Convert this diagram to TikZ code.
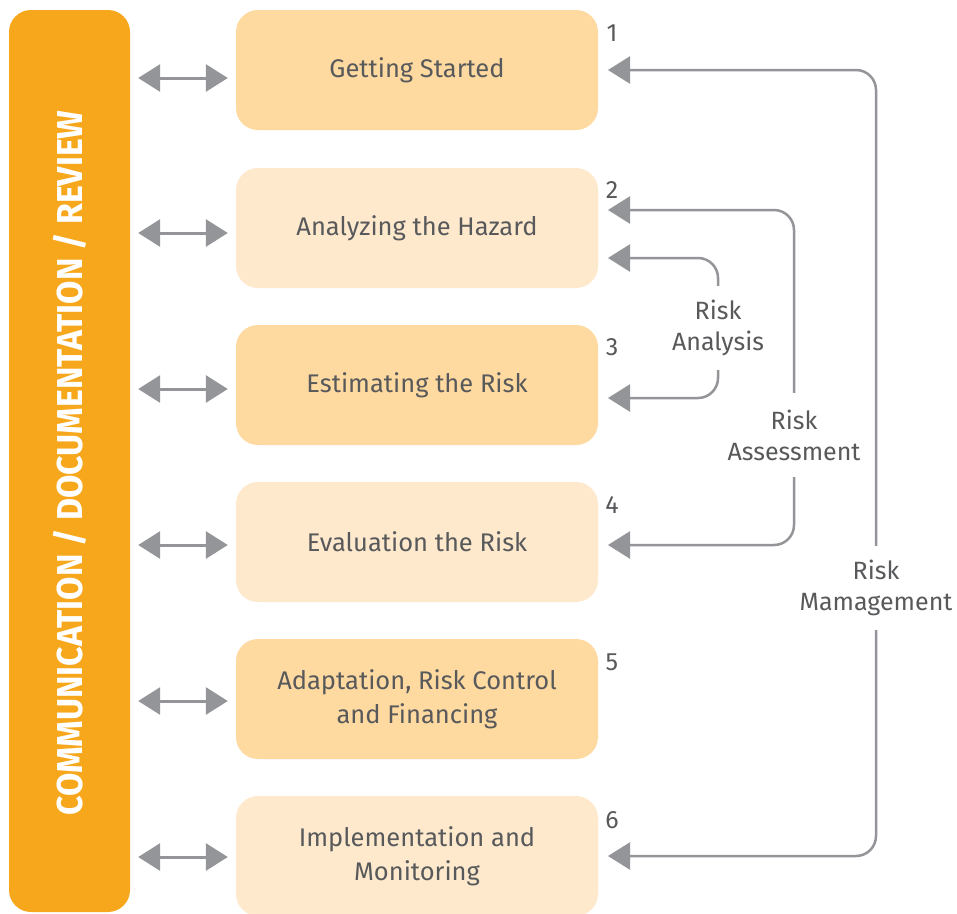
\documentclass[tikz,border=0pt]{standalone}
\usepackage{fontspec}
\setmainfont{Fira Sans}
\usetikzlibrary{arrows.meta}
\definecolor{barorange}{HTML}{F7A71C}
\definecolor{boxdark}{HTML}{FED9A0}
\definecolor{boxlight}{HTML}{FEE9CD}
\definecolor{arrowgray}{HTML}{939598}
\definecolor{textgray}{HTML}{58595B}
\tikzset{
  stage/.style={rounded corners=22pt, minimum width=362pt, minimum height=120pt, inner sep=0pt,
    align=center, text=textgray, font=\fontsize{25.5}{34}\selectfont},
  dark/.style={stage, fill=boxdark},
  light/.style={stage, fill=boxlight},
  dbl/.style={draw=arrowgray, line width=3pt, {Triangle[length=22pt,width=27pt]}-{Triangle[length=22pt,width=27pt]}},
  conn/.style={draw=arrowgray, line width=2.5pt, rounded corners=20pt, -{Triangle[length=22pt,width=27pt]}},
  lbl/.style={align=center, text=textgray, font=\fontsize{25}{31}\selectfont, minimum height=84pt, inner sep=0pt},
  num/.style={text=textgray, font=\fontsize{25}{28}\selectfont, inner sep=0pt}
}
\begin{document}
\begin{tikzpicture}[x=1pt,y=-1pt]
\clip (0,0) rectangle (957,913);
\fill[white] (0,0) rectangle (957,913);
\node[fill=barorange, rounded corners=22pt, minimum width=121pt, minimum height=902pt, inner sep=0pt] (bar) at (69.5,461) {};
\node[text=white, rotate=90, font=\bfseries\fontsize{36}{40}\selectfont, inner sep=0pt] (bartext) at (70,463) {\scalebox{0.94}[1]{COMMUNICATION / DOCUMENTATION / REVIEW}};
\node[dark]  (b1) at (417,70)  {Getting Started};
\node[light] (b2) at (417,228) {Analyzing the Hazard};
\node[dark]  (b3) at (417,385) {Estimating the Risk};
\node[light] (b4) at (417,542) {Evaluation the Risk};
\node[dark]  (b5) at (417,699) {Adaptation, Risk Control\\and Financing};
\node[light] (b6) at (417,856) {Implementation and\\Monitoring};
\foreach \i/\y in {1/78,2/233,3/389,4/545,5/701,6/857}{
  \draw[dbl] ([xshift=8pt]bar.east |- 0,\y) -- ([xshift=-8pt]b\i.west |- 0,\y);
}
\node[num] (n1) at (612,33) {1};
\node[num] (n2) at (612,190) {2};
\node[num] (n3) at (612,347) {3};
\node[num] (n4) at (612,505) {4};
\node[num] (n5) at (612,662) {5};
\node[num] (n6) at (612,820) {6};
\coordinate (m1) at (608,70);
\coordinate (m6) at (608,856);
\coordinate (s2) at (608,210);
\coordinate (s4) at (608,545);
\coordinate (a2) at (608,258);
\coordinate (a3) at (608,398);
\node[lbl] (ra) at (718,328) {Risk\\Analysis};
\node[lbl] (rs) at (794,435) {Risk\\Assessment};
\node[lbl] (rm) at (876,588) {Risk\\Mamagement};
\draw[conn] (ra.north) |- (a2);
\draw[conn] (ra.south) |- (a3);
\draw[conn] (rs.north) |- (s2);
\draw[conn] (rs.south) |- (s4);
\draw[conn] (rm.north) |- (m1);
\draw[conn] (rm.south) |- (m6);
\end{tikzpicture}
\end{document}
